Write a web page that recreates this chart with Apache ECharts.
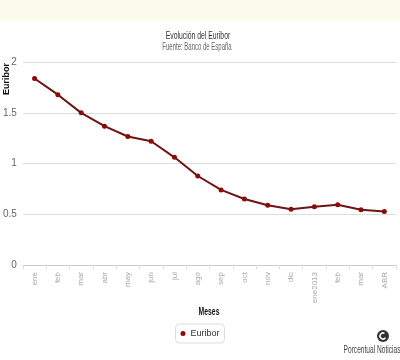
<!DOCTYPE html>
<html><head><meta charset="utf-8">
<script src="https://cdn.jsdelivr.net/npm/echarts@6/dist/echarts.min.js"></script>
<style>html,body{margin:0;padding:0;background:#fff}#c{width:400px;height:360px}</style>
</head><body><div id="c"></div>
<script>
const categories = ['ene','feb','mar','abr','may','jun','jul','ago','sep','oct','nov','dic','ene2013','feb','mar','ABR'];
const euribor = [1.837,1.678,1.499,1.368,1.266,1.219,1.061,0.877,0.740,0.650,0.588,0.549,0.575,0.594,0.545,0.528];
const yTicks = [0,0.5,1,1.5,2];
const F = "'Liberation Sans',Arial,sans-serif";
const chart = echarts.init(document.getElementById('c'), null, {renderer:'canvas'});
chart.setOption({
  animation:false,
  backgroundColor:'#fff',
  graphic:[
    {type:'rect', z:-10, shape:{x:0,y:0,width:400,height:24},
     style:{fill:new echarts.graphic.LinearGradient(0,0,0,1,[{offset:0,color:'#fafbec'},{offset:0.7,color:'#fafbec'},{offset:1,color:'#ffffff'}])}},
    {type:'text', x:198, y:36, scaleX:0.62, style:{text:'Evolución del Euribor', font:"11px "+F, fill:'#333', align:'center', verticalAlign:'middle'}},
    {type:'text', x:197, y:47, scaleX:0.6, style:{text:'Fuente: Banco de España', font:"10px "+F, fill:'#666', align:'center', verticalAlign:'middle'}},
    {type:'text', x:209, y:312, scaleX:0.62, style:{text:'Meses', font:"bold 11px "+F, fill:'#111', align:'center', verticalAlign:'middle'}},
    {type:'text', x:7, y:79, rotation:Math.PI/2, style:{text:'Euribor', font:"bold 9px "+F, fill:'#111', align:'center', verticalAlign:'middle'}},
    {type:'circle', shape:{cx:383,cy:336,r:6}, style:{fill:'#333'}},
    {type:'arc', shape:{cx:383,cy:336,r:3,startAngle:0.6,endAngle:5.2}, style:{stroke:'#fff',lineWidth:1.5,fill:null}},
    {type:'text', x:372, y:350, scaleX:0.6, style:{text:'Porcentual Noticias', font:"11px "+F, fill:'#444', align:'center', verticalAlign:'middle'}}
  ],
  legend:{
    bottom:17, left:'center', data:['Euribor'],
    icon:'circle', itemWidth:5, itemHeight:5, itemGap:4,
    borderColor:'#ddd', borderWidth:1, borderRadius:4, padding:[5,5,5,5],
    textStyle:{fontFamily:F, fontSize:9, color:'#333'}
  },
  grid:{left:22, right:4, top:62, bottom:95, containLabel:false},
  xAxis:{
    type:'category', data:categories, boundaryGap:true,
    axisLine:{lineStyle:{color:'#ccc'}},
    axisTick:{show:true, length:4, lineStyle:{color:'#ddd'}},
    axisLabel:{rotate:90, fontFamily:F, fontSize:8, color:'#aaa', margin:7, interval:0}
  },
  yAxis:{
    type:'value', min:0, max:2, interval:0.5,
    axisLine:{show:false}, axisTick:{show:false},
    axisLabel:{fontFamily:F, fontSize:10, color:'#666', margin:6, formatter:v=>yTicks.includes(v)?String(v):''},
    splitLine:{lineStyle:{color:'#ddd'}}
  },
  series:[{
    name:'Euribor', type:'line', data:euribor,
    symbol:'circle', symbolSize:5,
    itemStyle:{color:'#8b0a0a'},
    lineStyle:{color:'#6e1414', width:2}
  }]
});
</script></body></html>
